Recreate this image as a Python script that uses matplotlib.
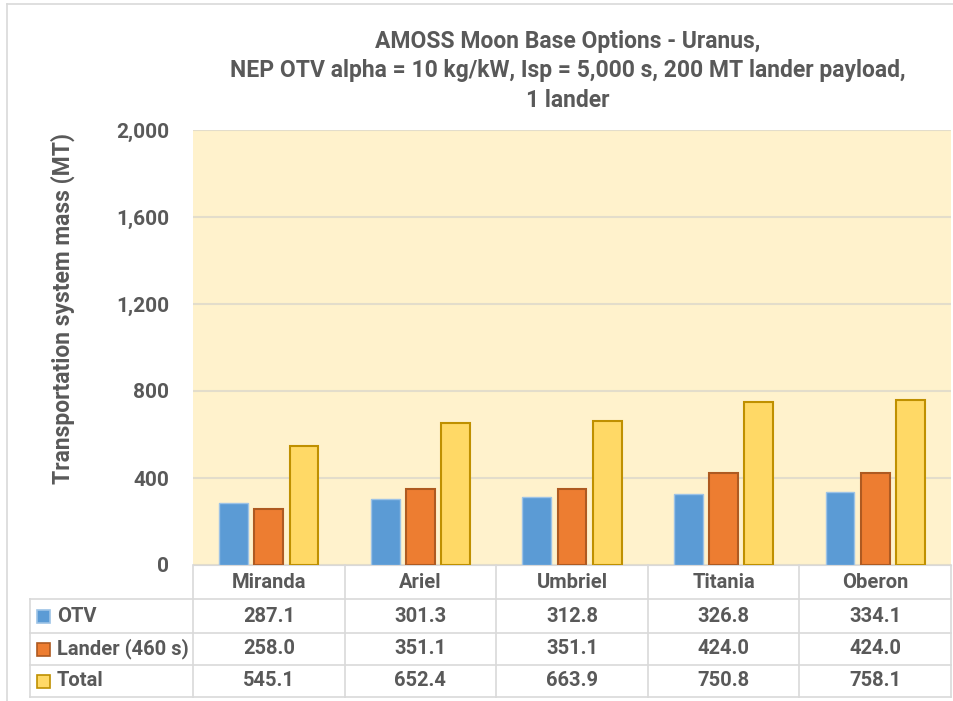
import matplotlib.pyplot as plt
import matplotlib.lines as mlines
import matplotlib.patches as mpatches
import numpy as np

plt.rcParams['font.family'] = ['Roboto', 'DejaVu Sans']
plt.rcParams['font.weight'] = 'bold'

moons = ['Miranda', 'Ariel', 'Umbriel', 'Titania', 'Oberon']
otv = [287.1, 301.3, 312.8, 326.8, 334.1]
lander = [258.0, 351.1, 351.1, 424.0, 424.0]
total = [545.1, 652.4, 663.9, 750.8, 758.1]
series_names = ['OTV', 'Lander (460 s)', 'Total']
yticks = [0, 400, 800, 1200, 1600, 2000]

txt = '#595959'
fills = ['#5B9BD5', '#ED7D31', '#FFD966']
edges = ['#9DC3E6', '#AE5A21', '#BF9000']
fs = 14.5

W, H = 954, 701
fig = plt.figure(figsize=(W / 100, H / 100), dpi=100)

def fx(px):
    return px / W

def fy(py):
    return 1 - py / H

# outer chart border (partial, as in the screenshot)
fig.add_artist(mlines.Line2D([fx(7), fx(954)], [fy(4), fy(4)], color='#D9D9D9', lw=1.2))
fig.add_artist(mlines.Line2D([fx(7), fx(7)], [fy(4), fy(701)], color='#D9D9D9', lw=1.2))

# main bar axes
x0, x1, ytop, ybot = 193, 951, 130, 565
ax = fig.add_axes([fx(x0), fy(ybot), fx(x1 - x0), fy(ytop) - fy(ybot)])
ax.set_facecolor('#FFF2CC')
x = np.arange(len(moons))
w = 0.19
step = 0.232
for i, vals in enumerate([otv, lander, total]):
    ax.bar(x + (i - 1) * step, vals, w, color=fills[i], edgecolor=edges[i],
           linewidth=1.5 if i else 1.0, zorder=3)
ax.set_xlim(-0.5, len(moons) - 0.5)
ax.set_ylim(0, 2000)
ax.set_yticks(yticks)
ax.set_yticklabels([f'{v:,}' for v in yticks], fontsize=15, color=txt, fontweight='bold')
ax.set_xticks([])
ax.grid(axis='y', color='#E3DDCB', lw=1.5, zorder=0)
ax.tick_params(axis='y', length=0, pad=17)
for s in ['top', 'right', 'left']:
    ax.spines[s].set_visible(False)
ax.spines['bottom'].set_color('#D9D9D9')
ax.set_ylabel('Transportation system mass (MT)', fontsize=16.5, color=txt,
              fontweight='bold')
ax.yaxis.set_label_coords((75 - x0) / (x1 - x0), (ybot - 308) / (ybot - ytop))

fig.text(fx(568), fy(71), 'AMOSS Moon Base Options - Uranus,\n'
         'NEP OTV alpha = 10 kg/kW, Isp = 5,000 s, 200 MT lander payload,\n'
         '1 lander', ha='center', va='center', fontsize=16.5, color=txt,
         fontweight='bold', linespacing=1.38)

# data table
tleft, tbot = 30, 697
rows_y = [565, 599, 633, 665, 697]
tab = fig.add_axes([fx(tleft), fy(tbot), fx(x1 - tleft), fy(565) - fy(tbot)])
unit = (x1 - x0) / len(moons)
xl = -0.5 - (x0 - tleft) / unit
tab.set_xlim(xl, len(moons) - 0.5)
tab.set_ylim(tbot, 565)
tab.axis('off')
lc = '#D9D9D9'
for ry in rows_y[1:]:
    tab.plot([xl, len(moons) - 0.5], [ry, ry], color=lc, lw=1.2, clip_on=False)
tab.plot([xl, xl], [rows_y[1], tbot], color=lc, lw=1.2, clip_on=False)
for k in range(len(moons) + 1):
    tab.plot([k - 0.5, k - 0.5], [565, tbot], color=lc, lw=1.2, clip_on=False)

for j, m in enumerate(moons):
    tab.text(j, (rows_y[0] + rows_y[1]) / 2, m, ha='center', va='center',
             fontsize=fs, color=txt, fontweight='bold')
for i, vals in enumerate([otv, lander, total]):
    yc = (rows_y[i + 1] + rows_y[i + 2]) / 2
    for j, v in enumerate(vals):
        tab.text(j, yc, f'{v:.1f}', ha='center', va='center', fontsize=fs,
                 color=txt, fontweight='bold')
    tab.text(xl + 27 / unit, yc, series_names[i], ha='left', va='center', fontsize=fs,
             color=txt, fontweight='bold')
    sx = xl + 7 / unit
    tab.add_patch(mpatches.Rectangle((sx, yc + 6.5), 13 / unit, -13, facecolor=fills[i],
                                     edgecolor=edges[i], lw=1.2, clip_on=False))

fig.savefig('out.png', dpi=100)
